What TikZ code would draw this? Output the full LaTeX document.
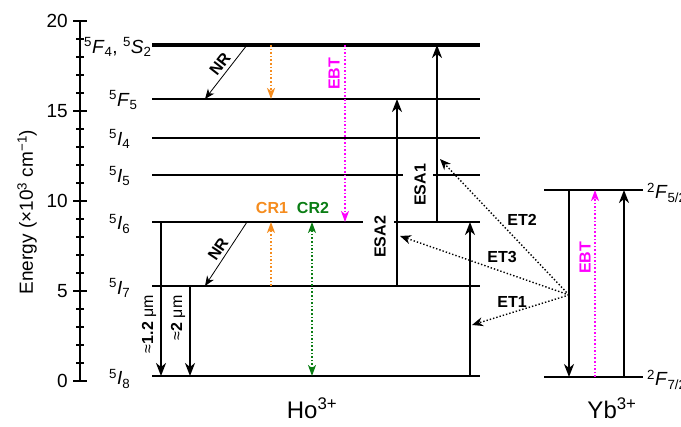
\documentclass[tikz,border=0pt]{standalone}
\usepackage{fontspec}
\setmainfont{Liberation Sans}
\usetikzlibrary{arrows.meta}
\definecolor{orng}{RGB}{245,140,30}
\definecolor{grn}{RGB}{10,125,20}
\definecolor{mag}{RGB}{255,0,255}
\newcommand\lvl[3]{\textsuperscript{#1}\textit{#2}\textsubscript{#3}}
\begin{document}
\begin{tikzpicture}[x=1pt,y=-1pt,
  lev/.style={line width=2pt},
  levthick/.style={line width=4pt},
  arr/.style={line width=1.8pt,-{Stealth[length=13pt,width=10pt,inset=4pt]}},
  nrarr/.style={line width=0.8pt,-{Stealth[length=10pt,width=8pt,inset=3pt]}},
  cdot/.style={line width=1.6pt,dotted,-{Stealth[length=11pt,width=8pt,inset=3pt]}},
  cdotboth/.style={line width=1.6pt,dotted,{Stealth[length=11pt,width=8pt,inset=3pt]}-{Stealth[length=11pt,width=8pt,inset=3pt]}},
  etarr/.style={line width=1.4pt,dotted,-{Stealth[length=11pt,width=9pt,inset=3.5pt]}},
  lbl/.style={font=\fontsize{19}{19}\selectfont,inner sep=0pt},
  blbl/.style={font=\fontsize{16}{16}\selectfont\bfseries,inner sep=0pt},
  num/.style={font=\fontsize{19}{19}\selectfont,inner sep=0pt,anchor=east},
  ion/.style={font=\fontsize{24}{24}\selectfont,inner sep=0pt}
]
\useasboundingbox (0,0) rectangle (681,427);
% ---- axis
\coordinate (ax0) at (80,381);
\coordinate (ax20) at (80,21);
\draw[line width=1.2pt] (ax0) -- (ax20);
\foreach \e in {0,...,20}{
  \draw[line width=1.1pt] (76,381-18*\e) -- (84,381-18*\e);
}
\foreach \e in {0,5,10,15,20}{
  \draw[line width=1.2pt] (73,381-18*\e) -- (87,381-18*\e);
  \node[num] (tick\e) at (68,381-18*\e) {\e};
}
\node[lbl,rotate=90] (ylab) at (27,212) {Energy (×10\textsuperscript{3} cm\textsuperscript{−1})};
% ---- Ho levels
\coordinate (Sa) at (152,45);  \coordinate (Sb) at (480,45);
\coordinate (F5a) at (152,99); \coordinate (F5b) at (480,99);
\coordinate (I4a) at (152,138); \coordinate (I4b) at (480,138);
\coordinate (I5a) at (152,175); \coordinate (I5b) at (403,175);
\coordinate (I5c) at (433,175); \coordinate (I5d) at (480,175);
\coordinate (I6a) at (152,222); \coordinate (I6b) at (363,222);
\coordinate (I6c) at (394,222); \coordinate (I6d) at (480,222);
\coordinate (I7a) at (152,286); \coordinate (I7b) at (480,286);
\coordinate (I8a) at (152,376); \coordinate (I8b) at (480,376);
\draw[levthick] (Sa) -- (Sb);
\draw[lev] (F5a) -- (F5b);
\draw[lev] (I4a) -- (I4b);
\draw[lev] (I5a) -- (I5b);
\draw[lev] (I5c) -- (I5d);
\draw[lev] (I6a) -- (I6b);
\draw[lev] (I6c) -- (I6d);
\draw[lev] (I7a) -- (I7b);
\draw[lev] (I8a) -- (I8b);
% level labels
\node[lbl,anchor=west] (lS) at (84,47) {\lvl{5}{F}{4}, \lvl{5}{S}{2}};
\node[lbl,anchor=west] (lF5) at (109,100) {\lvl{5}{F}{5}};
\node[lbl,anchor=west] (lI4) at (109,139) {\lvl{5}{I}{4}};
\node[lbl,anchor=west] (lI5) at (109,176) {\lvl{5}{I}{5}};
\node[lbl,anchor=west] (lI6) at (109,224) {\lvl{5}{I}{6}};
\node[lbl,anchor=west] (lI7) at (109,288) {\lvl{5}{I}{7}};
\node[lbl,anchor=west] (lI8) at (109,379) {\lvl{5}{I}{8}};
% ---- Yb levels
\coordinate (Ya) at (544,190); \coordinate (Yb) at (643,190);
\coordinate (Yc) at (544,377); \coordinate (Yd) at (643,377);
\draw[lev] (Ya) -- (Yb);
\draw[lev] (Yc) -- (Yd);
\node[lbl,anchor=west] (lY5) at (647,193) {\lvl{2}{F}{5/2}};
\node[lbl,anchor=west] (lY7) at (647,380) {\lvl{2}{F}{7/2}};
% ---- NR arrows
\coordinate (nr1s) at (247,45); \coordinate (nr1e) at (205,99);
\draw[nrarr] (nr1s) -- (nr1e);
\node[blbl,rotate=52] (nr1) at (220,64) {NR};
\coordinate (nr2s) at (247,222); \coordinate (nr2e) at (205,286);
\draw[nrarr] (nr2s) -- (nr2e);
\node[blbl,rotate=56] (nr2) at (218,249) {NR};
% ---- emission arrows
\coordinate (e1s) at (161,222); \coordinate (e1e) at (161,376);
\draw[arr] (e1s) -- (e1e);
\node[blbl,rotate=90,font=\fontsize{16}{16}\selectfont] (e1l) at (149,324) {≈\textbf{1.2} μm};
\coordinate (e2s) at (190,286); \coordinate (e2e) at (190,376);
\draw[arr] (e2s) -- (e2e);
\node[blbl,rotate=90,font=\fontsize{16}{16}\selectfont] (e2l) at (178,318) {≈\textbf{2} μm};
% ---- CR arrows
\coordinate (o1s) at (271,45); \coordinate (o1e) at (271,99);
\draw[cdot,orng] (o1s) -- (o1e);
\coordinate (o2s) at (271,286); \coordinate (o2e) at (271,222);
\draw[cdot,orng] (o2s) -- (o2e);
\node[blbl,text=orng] (cr1) at (272,208) {CR1};
\coordinate (g1s) at (312,376); \coordinate (g1e) at (312,222);
\draw[cdotboth,grn] (g1s) -- (g1e);
\node[blbl,text=grn] (cr2) at (313,208) {CR2};
% ---- EBT
\coordinate (m1s) at (345,45); \coordinate (m1e) at (345,222);
\draw[cdot,mag] (m1s) -- (m1e);
\node[blbl,text=mag,rotate=90] (ebt1) at (334,74) {EBT};
\coordinate (m2s) at (595,377); \coordinate (m2e) at (595,190);
\draw[cdot,mag] (m2s) -- (m2e);
\node[blbl,text=mag,rotate=90] (ebt2) at (585,258) {EBT};
% ---- ESA
\coordinate (esa2s) at (397,286); \coordinate (esa2e) at (397,99);
\draw[arr] (esa2s) -- (esa2e);
\node[blbl,rotate=90] (esa2) at (380,237) {ESA2};
\coordinate (esa1s) at (437,222); \coordinate (esa1e) at (437,45);
\draw[arr] (esa1s) -- (esa1e);
\node[blbl,rotate=90] (esa1) at (420,185) {ESA1};
% ---- GSA Ho
\coordinate (gsas) at (470,376); \coordinate (gsae) at (470,222);
\draw[arr] (gsas) -- (gsae);
% ---- Yb arrows
\coordinate (yds) at (569,190); \coordinate (yde) at (569,377);
\draw[arr] (yds) -- (yde);
\coordinate (yus) at (624,377); \coordinate (yue) at (624,190);
\draw[arr] (yus) -- (yue);
% ---- ET
\coordinate (eto) at (569,295);
\coordinate (et2e) at (440,159);
\coordinate (et3e) at (400,236);
\coordinate (et1e) at (472,325);
\draw[etarr] (eto) -- (et2e);
\draw[etarr] (eto) -- (et3e);
\draw[etarr] (eto) -- (et1e);
\node[blbl] (et2) at (522,220) {ET2};
\node[blbl] (et3) at (502,257) {ET3};
\node[blbl] (et1) at (512,302) {ET1};
% ---- ion labels
\node[ion] (ho) at (312,408) {Ho\textsuperscript{3+}};
\node[ion] (yb) at (612,408) {Yb\textsuperscript{3+}};
\end{tikzpicture}
\end{document}
